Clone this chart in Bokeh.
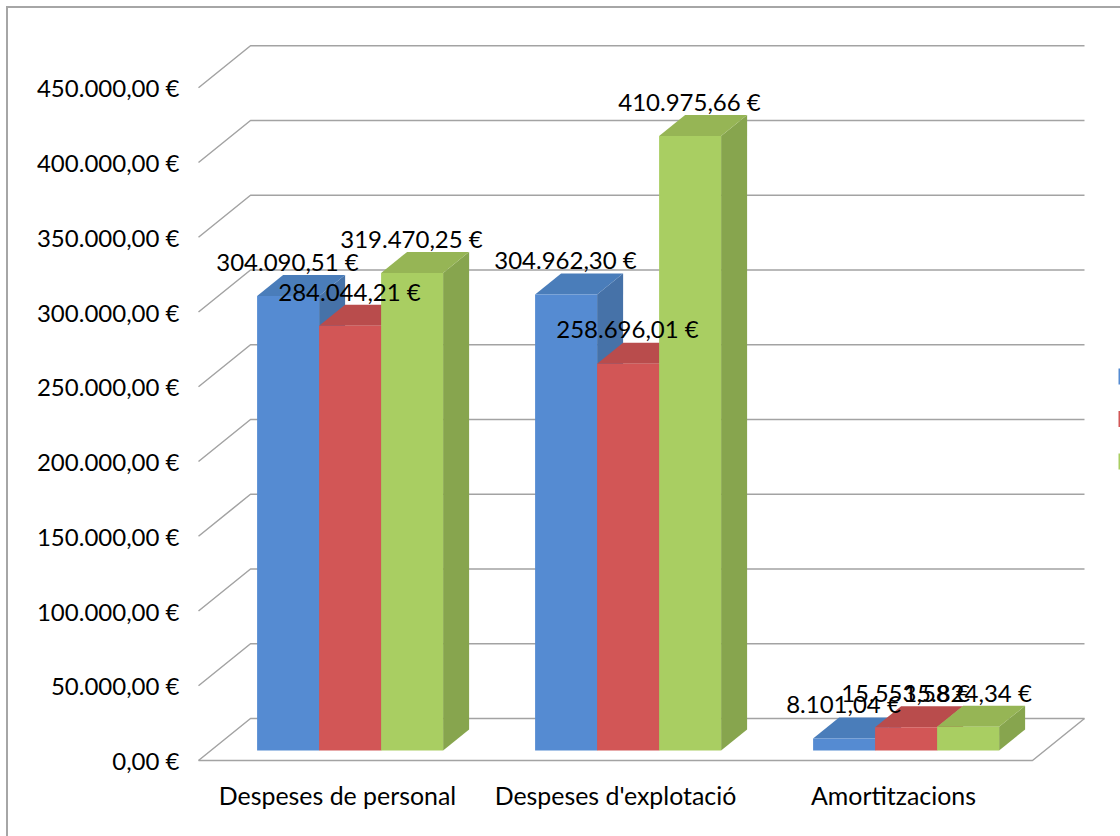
from bokeh.plotting import figure
from bokeh.models import ColumnDataSource, FixedTicker, Range1d
from bokeh.core.properties import value
from bokeh.embed import file_html
from bokeh.resources import INLINE

# ---- data ----
categories = ["Despeses de personal", "Despeses d'explotació", "Amortitzacions"]
series_a = [304090.51, 304962.30, 8101.04]
series_b = [284044.21, 258696.01, 15553.58]
series_c = [319470.25, 410975.66, 15824.34]
label_a = ["304.090,51 €", "304.962,30 €", "8.101,04 €"]
label_b = ["284.044,21 €", "258.696,01 €", "15.553,58 €"]
label_c = ["319.470,25 €", "410.975,66 €", "15.824,34 €"]
tick_values = [0, 50000, 100000, 150000, 200000, 250000, 300000, 350000, 400000, 450000]
tick_labels = ["0,00 €", "50.000,00 €", "100.000,00 €", "150.000,00 €", "200.000,00 €",
               "250.000,00 €", "300.000,00 €", "350.000,00 €", "400.000,00 €", "450.000,00 €"]

# ---- styles: (front, top, side) ----
palettes = [("#558BD2", "#4A7DBA", "#4672A8"),
            ("#D25656", "#B94C4C", "#A84545"),
            ("#A9CE62", "#96B555", "#87A54E")]
GRID = "#A3A3A3"
FONT = "Lato"
FS = "24px"

# geometry (pixels → data units)
PX_PER_CAT = 278.0
PX_PER_EUR = 74.75 / 50000.0
def dx(px): return px / PX_PER_CAT
def dy(px): return px / PX_PER_EUR

W, H = 1120, 836
FR_L, FR_T, FR_B = 182, 8, 66     # panel sizes
frame_left_scr = FR_L
frame_top_scr = FR_T
frame_bot_scr = H - FR_B
frame_right_scr = W
ORIGIN_X, ORIGIN_Y = 198, 760

p = figure(width=W, height=H, output_backend="svg", toolbar_location=None,
           x_range=Range1d(dx(frame_left_scr - ORIGIN_X), dx(frame_right_scr - ORIGIN_X)),
           y_range=Range1d(dy(ORIGIN_Y - frame_bot_scr), dy(ORIGIN_Y - frame_top_scr)),
           min_border_left=FR_L, min_border_right=0, min_border_top=FR_T, min_border_bottom=FR_B,
           outline_line_color=None, background_fill_color=None, border_fill_color=None)
p.styles = {"background":
            "linear-gradient(#A6A6A6,#A6A6A6) 6px 6px/2px 100% no-repeat,"
            "linear-gradient(#A6A6A6,#A6A6A6) 6px 6px/100% 2px no-repeat"}
p.grid.visible = False

# axes
p.yaxis.ticker = FixedTicker(ticks=tick_values)
p.yaxis.major_label_overrides = dict(zip(tick_values, tick_labels))
cat_pos = [i + 0.5 for i in range(len(categories))]
p.xaxis.ticker = FixedTicker(ticks=cat_pos)
p.xaxis.major_label_overrides = dict(zip(cat_pos, categories))
for ax in (p.xaxis[0], p.yaxis[0]):
    ax.axis_line_color = None
    ax.major_tick_line_color = None
    ax.minor_tick_line_color = None
    ax.major_label_text_font = FONT
    ax.major_label_text_font_size = FS
    ax.major_label_text_color = "black"
    ax.major_tick_in = 0
    ax.major_tick_out = 0
p.yaxis[0].major_label_standoff = 3
p.xaxis[0].major_label_standoff = 9
p.xaxis[0].major_label_text_font_size = "24.9px"

# grid lines: back wall and left wall
depth_x, depth_y = dx(52), dy(42)
n = len(categories)
for t in tick_values:
    p.line([0, depth_x, n + depth_x], [t, t + depth_y, t + depth_y], line_color=GRID, line_width=1.5)
# floor front and right edges
p.line([0, n, n + depth_x], [0, 0, depth_y], line_color=GRID, line_width=1.5)

# bars
bar_w = dx(62)
off_x = dx(58.6)     # gap from category start to first bar
base = dy(10)
bd_x, bd_y = dx(26), dy(21)

for s, (vals, (front, top, side)) in enumerate(zip([series_a, series_b, series_c], palettes)):
    lefts = [i + off_x + s * bar_w for i in range(n)]
    rights = [l + bar_w for l in lefts]
    tops = [base + v for v in vals]
    p.patches([[r, r + bd_x, r + bd_x, r] for r in rights],
              [[base, base + bd_y, t + bd_y, t] for t in tops],
              fill_color=side, line_color=None)
    p.patches([[l, l + bd_x, r + bd_x, r] for l, r in zip(lefts, rights)],
              [[t, t + bd_y, t + bd_y, t] for t in tops],
              fill_color=top, line_color=None)
    p.quad(left=lefts, right=rights, bottom=[base] * n, top=tops, fill_color=front, line_color=None)

    # cut-off legend keys at the right edge
    key_top = dy(ORIGIN_Y - (368 + 42.5 * s))
    p.quad(left=[dx(1118 - ORIGIN_X)], right=[dx(1130 - ORIGIN_X)],
           top=[key_top], bottom=[key_top - dy(16)], fill_color=front, line_color=None)

# data labels drawn last
for s, (vals, labels) in enumerate(zip([series_a, series_b, series_c], [label_a, label_b, label_c])):
    src = ColumnDataSource(dict(
        x=[i + off_x + (s + 0.5) * bar_w - dx(0.6) for i in range(n)],
        y=[base + v + dy(34.8) for v in vals],
        t=labels))
    p.text("x", "y", text="t", source=src, text_align="center", text_baseline="middle",
           text_font=value(FONT), text_font_size=value(FS), text_color="black")

open("out.html", "w").write(file_html(p, INLINE))
